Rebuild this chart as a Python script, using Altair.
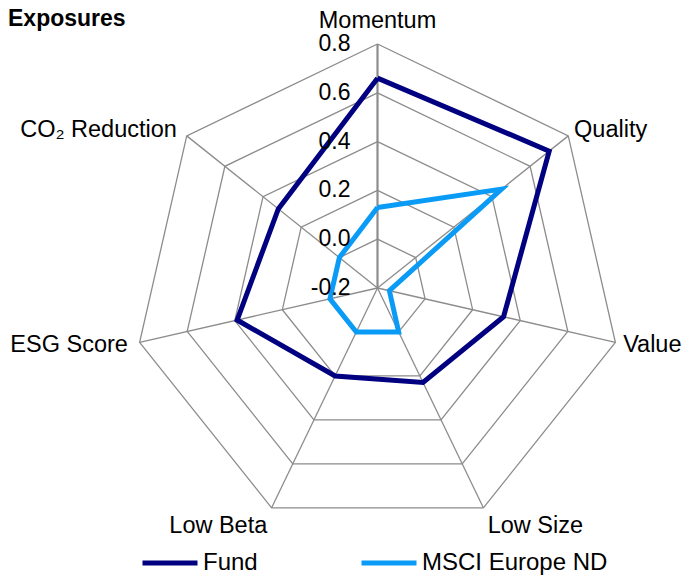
import math
import altair as alt
import pandas as pd

# ---------------- data ----------------
categories = ["Momentum", "Quality", "Value", "Low Size", "Low Beta", "ESG Score", "CO₂ Reduction"]
fund = [0.66, 0.70, 0.33, 0.23, 0.20, 0.39, 0.32]
msci = [0.13, 0.45, -0.15, 0.00, 0.00, 0.00, 0.00]
series_names = ["Fund", "MSCI Europe ND"]
ring_levels = [-0.2, 0.0, 0.2, 0.4, 0.6, 0.8]
tick_labels = ["-0.2", "0.0", "0.2", "0.4", "0.6", "0.8"]
title_text = "Exposures"

# ---------------- layout ----------------
AXIS_MIN, AXIS_MAX = ring_levels[0], ring_levels[-1]
N = len(categories)
W, H = 674, 569
CX, CY = 369.5, 280.0
R = 244.0
SPAN = AXIS_MAX - AXIS_MIN
FONT = "Liberation Sans"
FS = 23
FS_LAB = 23.5
GRID = "#8c8c8c"

xscale = alt.Scale(domain=[-CX / R * SPAN, (W - CX) / R * SPAN], nice=False, zero=False)
yscale = alt.Scale(domain=[-(H - CY) / R * SPAN, CY / R * SPAN], nice=False, zero=False)

TWO_PI_N = f"(2*PI/{N})"

# series table (closed polygons)
rows = []
for name, vals in zip(series_names, [fund, msci]):
    for i in range(N + 1):
        rows.append({"series": name, "order": i, "category": categories[i % N], "value": vals[i % N]})
series_df = pd.DataFrame(rows)

ring_rows = []
for lv in ring_levels[1:]:
    for i in range(N + 1):
        ring_rows.append({"level": lv, "order": i})
ring_df = pd.DataFrame(ring_rows)

cat_df = pd.DataFrame({"category": categories, "idx": list(range(N))})
tick_df = pd.DataFrame({"level": ring_levels, "label": tick_labels})

X = alt.X("px:Q", scale=xscale, axis=None)
Y = alt.Y("py:Q", scale=yscale, axis=None)

rings = alt.Chart(ring_df).transform_calculate(
    ang=f"datum.order*{TWO_PI_N}",
    rr=f"datum.level-({AXIS_MIN})",
).transform_calculate(
    px="datum.rr*sin(datum.ang)", py="datum.rr*cos(datum.ang)"
).mark_line(color=GRID, strokeWidth=1.3, strokeJoin="miter").encode(
    x=X, y=Y, detail="level:N", order="order:Q"
)

spokes = alt.Chart(cat_df).transform_calculate(
    ang=f"datum.idx*{TWO_PI_N}",
).transform_calculate(
    px="0", py="0",
    px2=f"{SPAN}*sin(datum.ang)", py2=f"{SPAN}*cos(datum.ang)",
).mark_rule(color=GRID).encode(
    x=X, y=Y, x2="px2:Q", y2="py2:Q",
    strokeWidth=alt.condition("datum.idx == 0", alt.value(2.2), alt.value(1.3)),
)

ticks = alt.Chart(tick_df).transform_calculate(
    px="0", py=f"datum.level-({AXIS_MIN})"
).mark_text(align="right", baseline="middle", dx=-27, font=FONT, fontSize=FS, color="black").encode(
    x=X, y=Y, text="label:N"
)

lines = alt.Chart(series_df).transform_calculate(
    ang=f"datum.order*{TWO_PI_N}",
    rr=f"datum.value-({AXIS_MIN})",
).transform_calculate(
    px="datum.rr*sin(datum.ang)", py="datum.rr*cos(datum.ang)"
).mark_line(strokeWidth=5, strokeJoin="miter").encode(
    x=X, y=Y, order="order:Q",
    color=alt.Color(
        "series:N",
        scale=alt.Scale(domain=series_names, range=["#000080", "#0A9BF7"]),
        legend=alt.Legend(
            orient="none", legendX=132, legendY=525, direction="horizontal", title=None,
            symbolType="stroke", symbolSize=3025, symbolStrokeWidth=5,
            labelFont=FONT, labelFontSize=24, labelColor="black", labelLimit=400,
            columnPadding=93, labelOffset=3,
        ),
    ),
)

LR = SPAN * (1 + 10 / R)
base_lab = alt.Chart(cat_df).transform_calculate(
    ang=f"datum.idx*{TWO_PI_N}",
).transform_calculate(
    s="sin(datum.ang)", c="cos(datum.ang)",
).transform_calculate(
    px=f"{LR}*datum.s", py=f"{LR}*datum.c",
)

def lab(filt, **kw):
    return base_lab.transform_filter(filt).mark_text(
        font=FONT, fontSize=FS_LAB, color="black", **kw
    ).encode(x=X, y=Y, text="category:N")

lab_top = lab("abs(datum.s) < 0.1", align="center", baseline="alphabetic", dy=-6)
lab_lm = lab("datum.s > 0.1 && datum.c > -0.8", align="left", baseline="middle", dx=-2)
lab_lt = lab("datum.s > 0.1 && datum.c <= -0.8", align="left", baseline="top", dy=-3)
lab_rt = lab("datum.s < -0.1 && datum.c <= -0.8", align="right", baseline="top", dy=-3)
lab_rm = lab("datum.s < -0.1 && datum.c > -0.8", align="right", baseline="middle", dx=-2)

title = alt.Chart(pd.DataFrame({"t": [title_text]})).mark_text(
    align="left", baseline="top", font=FONT, fontSize=FS, fontWeight="bold", color="black"
).encode(x=alt.value(0), y=alt.value(0), text="t:N")

chart = alt.layer(
    rings, spokes, lines, ticks, lab_top, lab_lm, lab_lt, lab_rt, lab_rm, title
).properties(
    width=W, height=H, autosize=alt.AutoSizeParams(type="none"), padding=0
).configure_view(stroke=None)

chart.save("out.html", embed_options={"renderer": "svg", "actions": False})
